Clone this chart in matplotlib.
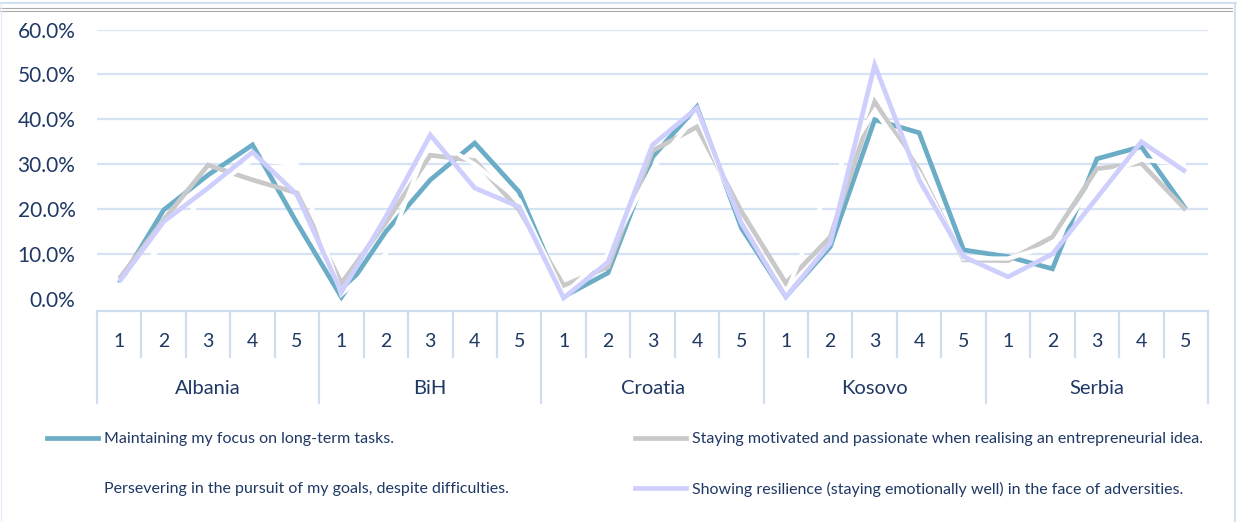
import numpy as np
import matplotlib
matplotlib.use("Agg")
import matplotlib.pyplot as plt
from matplotlib.lines import Line2D

W, H = 1237, 522

countries = ["Albania", "BiH", "Croatia", "Kosovo", "Serbia"]
levels = ["1", "2", "3", "4", "5"]

series_names = [
    "Maintaining my focus on long-term tasks.",
    "Staying motivated and passionate when realising an entrepreneurial idea.",
    "Persevering in the pursuit of my goals, despite difficulties.",
    "Showing resilience (staying emotionally well) in the face of adversities.",
]

# values in percent, 5 levels per country
focus = [3.5, 19.8, 27.6, 34.3, 16.9,
         0.4, 15.0, 26.5, 34.7, 23.8,
         0.5, 5.8, 31.6, 42.8, 15.8,
         0.5, 11.6, 39.9, 37.0, 10.9,
         9.4, 6.7, 31.2, 33.9, 20.0]
motivated = [4.5, 17.6, 29.8, 26.5, 23.6,
             3.5, 17.0, 32.0, 30.8, 19.8,
             3.0, 7.1, 33.0, 38.3, 19.5,
             3.5, 13.8, 43.9, 28.7, 8.7,
             8.5, 13.8, 29.0, 30.2, 19.8]
persevering = [3.0, 12.0, 24.0, 31.0, 30.0,
               1.0, 10.0, 36.0, 30.0, 22.0,
               1.0, 10.0, 29.0, 41.0, 17.0,
               1.0, 26.0, 42.0, 28.0, 9.0,
               9.0, 12.0, 27.0, 31.0, 30.0]
resilience = [3.8, 17.2, 24.7, 32.7, 23.2,
              1.5, 18.3, 36.5, 24.7, 20.5,
              0.2, 8.2, 34.3, 42.5, 16.9,
              0.4, 12.4, 52.1, 26.5, 9.4,
              4.9, 10.0, 22.5, 35.0, 28.3]

colors = ["#6BADC6", "#C9C9C9", "#FFFFFF", "#CFCFFD"]
text_color = "#1F3864"
grid_color = "#D6E3F5"
box_color = "#CFDDF1"

plt.rcParams["font.family"] = ["Lato", "DejaVu Sans"]

fig = plt.figure(figsize=(W / 100, H / 100), dpi=100)
ax = fig.add_axes([97 / W, 1 - 311 / H, (1208 - 97) / W, (311 - 29.5) / H])

n = len(countries) * len(levels)
x = np.arange(n)
data = [focus, motivated, persevering, resilience]
for vals, col in zip(data, colors):
    lw = 3.0 if col == "#FFFFFF" else 3.4
    ax.plot(x, np.array(vals) / 100, color=col, lw=lw, solid_joinstyle="miter",
            solid_capstyle="butt", zorder=3)

ax.set_xlim(-0.5, n - 0.5)
ax.set_ylim(-0.027, 0.6)
ax.set_yticks(np.arange(0, 0.61, 0.1))
ax.set_yticklabels(["{:.1f}%".format(v * 100) for v in np.arange(0, 0.61, 0.1)],
                   fontsize=15, color=text_color)
ax.tick_params(axis="y", length=0, pad=15.5)
ax.set_xticks([])
for v in np.arange(0.1, 0.61, 0.1):
    ax.axhline(v, color=grid_color, lw=1.6, zorder=1)
for s in ax.spines.values():
    s.set_visible(False)

# multi-level category axis
tr = ax.get_xaxis_transform()
ax.plot([-0.5, n - 0.5], [0, 0], color=box_color, lw=1.6, transform=tr, clip_on=False)
for i in range(n + 1):
    bottom = -0.327 if i % 5 == 0 else -0.163
    ax.plot([i - 0.5, i - 0.5], [0, bottom], color=box_color, lw=1.6,
            transform=tr, clip_on=False)
for i in range(n):
    ax.text(i, -0.110, levels[i % 5], transform=tr, ha="center", va="center",
            fontsize=14, color=text_color)
for k, c in enumerate(countries):
    ax.text(k * 5 + 2, -0.277, c, transform=tr, ha="center", va="center",
            fontsize=14.5, color=text_color)

# legend, laid out as in the reference (row-wise, two columns)
leg_pos = [(47, 438), (635, 438), (47, 488), (635, 488)]
for name, col, (lx, ly) in zip(series_names, colors, leg_pos):
    fig.add_artist(Line2D([lx / W, (lx + 51) / W], [1 - ly / H, 1 - ly / H],
                          color=col, lw=3.4, transform=fig.transFigure))
    fig.text((lx + 57) / W, 1 - (ly + 1) / H, name, ha="left", va="center",
             fontsize=11.5, color=text_color)

# frame lines at the top and sides
fig.add_artist(Line2D([0, 1], [1 - 2.5 / H, 1 - 2.5 / H], color="#D3E0F3", lw=1.5,
                      transform=fig.transFigure))
for yy in (8, 10.5):
    fig.add_artist(Line2D([0, 1232 / W], [1 - yy / H, 1 - yy / H], color="#ABABAB",
                          lw=0.8, transform=fig.transFigure))
fig.add_artist(Line2D([1235 / W, 1235 / W], [0, 1 - 2.5 / H], color="#D3E0F3", lw=1.5,
                      transform=fig.transFigure))
fig.add_artist(Line2D([0.5 / W, 0.5 / W], [0, 1 - 2.5 / H], color="#E6EDF8", lw=1.0,
                      transform=fig.transFigure))

fig.savefig("out.png", dpi=100, facecolor="white")
